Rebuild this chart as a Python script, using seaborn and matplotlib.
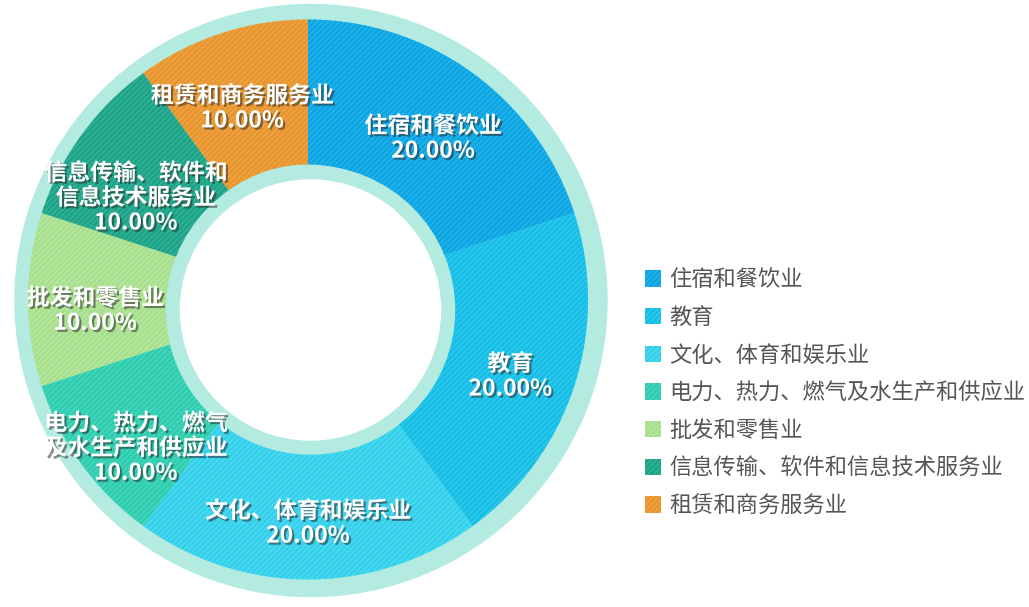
import matplotlib
matplotlib.use('Agg')
import matplotlib.pyplot as plt
import matplotlib.patheffects as pe
from matplotlib.patches import Circle
import numpy as np
import seaborn as sns

categories = ['住宿和餐饮业', '教育', '文化、体育和娱乐业', '电力、热力、燃气及水生产和供应业',
              '批发和零售业', '信息传输、软件和信息技术服务业', '租赁和商务服务业']
slice_labels = ['住宿和餐饮业', '教育', '文化、体育和娱乐业', '电力、热力、燃气\n及水生产和供应业',
                '批发和零售业', '信息传输、软件和\n信息技术服务业', '租赁和商务服务业']
values = [20, 20, 20, 10, 10, 10, 10]
colors = ['#0aa6e4', '#14bee6', '#33d0ec', '#2dcdb0', '#a6e08c', '#1ca488', '#e8952c']
stripe = ['#34b4ea', '#3ccaec', '#58daf0', '#50d8bf', '#bce8a6', '#3db49b', '#eea852']
ring_color = '#b4ebe1'

sns.set_theme(style='white')
plt.rcParams['font.family'] = ['Noto Sans CJK SC', 'DejaVu Sans']
plt.rcParams['hatch.linewidth'] = 0.8

fig = plt.figure(figsize=(10.29, 6.07), dpi=100)
ax = fig.add_axes([0, 0, 1, 1])

# outer light ring behind the donut
ax.add_patch(Circle((311, 306.5), 296, color=ring_color, zorder=0))

wedges, _ = ax.pie(values, colors=colors, startangle=90, counterclock=False,
                   radius=280, center=(308, 307.5),
                   wedgeprops=dict(width=145, linewidth=0))
for w, h in zip(wedges, stripe):
    w.set_edgecolor(h)
    w.set_hatch('//////')
    w.set_zorder(1)

# inner ring + white hole
ax.add_patch(Circle((310.5, 297), 144, color=ring_color, zorder=2))
ax.add_patch(Circle((310.5, 297), 130, color='white', zorder=3))

total = sum(values)
shadow = [pe.SimplePatchShadow(offset=(1.5, -1.5), shadow_rgbFace='#2a2a2a', alpha=0.55), pe.Normal()]
for w, lab, v in zip(wedges, slice_labels, values):
    ang = np.deg2rad((w.theta1 + w.theta2) / 2)
    x = 308 + 0.76 * 280 * np.cos(ang)
    y = 307.5 + 0.76 * 280 * np.sin(ang)
    ax.annotate(f'{lab}\n{v / total * 100:.2f}%', (x, y), xytext=(0, 9), textcoords='offset points',
                ha='center', va='top', color='white', fontsize=16.5, fontweight='bold',
                linespacing=1.1, path_effects=shadow, zorder=5)

ax.legend(wedges, categories, loc='center left', bbox_to_anchor=(0.607, 0.353),
          bbox_transform=fig.transFigure, frameon=False, fontsize=16,
          labelcolor='#555555', handlelength=0.75, handleheight=0.75,
          handletextpad=0.35, labelspacing=0.66)

ax.set_xlim(0, 1029)
ax.set_ylim(0, 607)
ax.set_aspect('equal')
ax.axis('off')

fig.savefig('out.png', dpi=100)
